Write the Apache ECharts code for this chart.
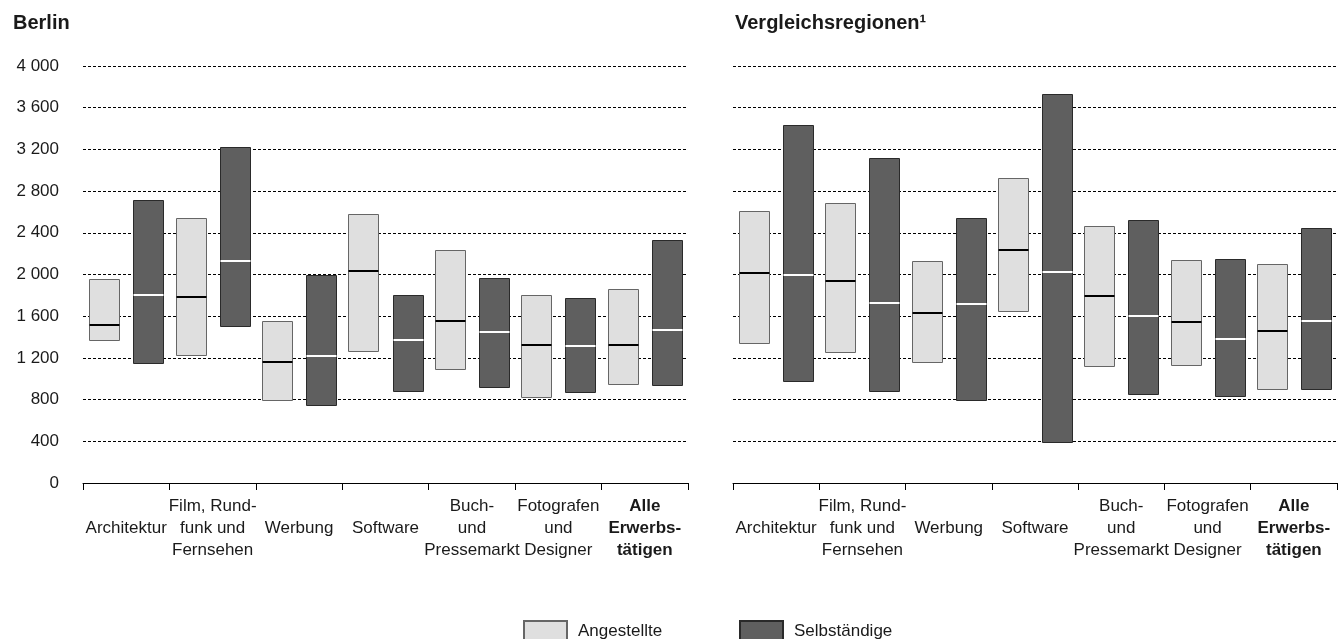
<!DOCTYPE html>
<html lang="de">
<head>
    <meta charset="UTF-8">
    <title>Einkommen Kreativwirtschaft</title>
    <script src="https://cdn.jsdelivr.net/npm/echarts@6/dist/echarts.min.js"></script>
    <style>
        html, body { margin: 0; padding: 0; background: #fff; }
        #chart { width: 1342px; height: 639px; }
    </style>
</head>
<body>
<div id="chart"></div>
<script type="text/javascript">
    var categories = ['Architektur', 'Film, Rund-\nfunk und\nFernsehen', 'Werbung', 'Software',
        'Buch-\nund\nPressemarkt', 'Fotografen\nund\nDesigner', 'Alle\nErwerbs-\ntätigen'];
    var yTicks = [0, 400, 800, 1200, 1600, 2000, 2400, 2800, 3200, 3600, 4000];

    // Berlin
    var berlinAngLow  = [1370, 1230,  800, 1270, 1090,  825,  950];
    var berlinAngMed  = [1520, 1785, 1160, 2030, 1550, 1320, 1320];
    var berlinAngHigh = [1960, 2540, 1550, 2580, 2235, 1800, 1865];
    var berlinSelLow  = [1150, 1505,  750,  885,  920,  875,  940];
    var berlinSelMed  = [1800, 2130, 1215, 1375, 1450, 1310, 1465];
    var berlinSelHigh = [2710, 3220, 2000, 1800, 1965, 1770, 2335];

    // Vergleichsregionen
    var vglAngLow  = [1340, 1260, 1160, 1650, 1120, 1130,  905];
    var vglAngMed  = [2015, 1935, 1635, 2235, 1790, 1545, 1460];
    var vglAngHigh = [2610, 2690, 2130, 2930, 2470, 2135, 2105];
    var vglSelLow  = [ 975,  880,  795,  395,  855,  830,  905];
    var vglSelMed  = [1995, 1725, 1720, 2025, 1600, 1385, 1555];
    var vglSelHigh = [3430, 3115, 2540, 3730, 2520, 2145, 2450];

    var FONT = 'Liberation Sans';
    var TXT = '#1a1a1a';

    function rows(lo, md, hi) {
        var out = [];
        for (var i = 0; i < lo.length; i++) out.push([i, lo[i], md[i], hi[i]]);
        return out;
    }

    function rangeRenderer(offset, fill, stroke, medColor) {
        return function (params, api) {
            var cat = api.value(0);
            var lo = api.coord([cat, api.value(1)]);
            var md = api.coord([cat, api.value(2)]);
            var hi = api.coord([cat, api.value(3)]);
            var band = api.size([1, 0])[0];
            var w = Math.round(band * 0.35);
            var x0 = Math.round(lo[0] + band * offset - w / 2) + 0.5;
            var yTop = Math.round(hi[1]) + 0.5;
            var yBot = Math.round(lo[1]) + 0.5;
            var yMed = Math.round(md[1]);
            return {
                type: 'group',
                children: [
                    { type: 'rect', shape: { x: x0, y: yTop, width: w, height: yBot - yTop },
                      style: { fill: fill, stroke: stroke, lineWidth: 1 } },
                    { type: 'line', shape: { x1: x0, y1: yMed, x2: x0 + w, y2: yMed },
                      style: { stroke: medColor, lineWidth: 2 } }
                ]
            };
        };
    }

    var labelBase = { color: TXT, fontFamily: FONT, fontSize: 17, lineHeight: 22, verticalAlign: 'middle' };

    var catData = categories.map(function (c, i) {
        if (i === categories.length - 1) {
            return { value: c, textStyle: Object.assign({}, labelBase, { fontWeight: 'bold' }) };
        }
        return c;
    });

    function fmt(v) {
        return String(v).replace(/\B(?=(\d{3})+(?!\d))/g, ' ');
    }

    function xAxis(idx) {
        return {
            type: 'category', gridIndex: idx, data: catData,
            axisLine: { show: true, lineStyle: { color: '#000', width: 1 } },
            axisTick: { show: true, interval: 0, length: 7, lineStyle: { color: '#000' } },
            axisLabel: Object.assign({ interval: 0, margin: 45 }, labelBase)
        };
    }

    function yAxis(idx, showLabels) {
        return {
            type: 'value', gridIndex: idx, min: 0, max: 4000, interval: 400,
            axisLine: { show: false }, axisTick: { show: false },
            splitLine: { lineStyle: { color: '#000', type: [3, 2], width: 1 } },
            axisLabel: { show: showLabels, color: TXT, fontFamily: FONT, fontSize: 17, margin: 24,
                padding: [7, 0, 0, 0],
                formatter: function (v) { return yTicks.indexOf(v) >= 0 ? fmt(v) : ''; } }
        };
    }

    var LIGHT = '#dfdfdf', LIGHT_B = '#666', DARK = '#5f5f5f', DARK_B = '#2a2a2a';

    function panelSeries(idx, aLo, aMd, aHi, sLo, sMd, sHi) {
        return [
            { name: 'Angestellte', type: 'custom', xAxisIndex: idx, yAxisIndex: idx,
              itemStyle: { color: LIGHT, borderColor: LIGHT_B, borderWidth: 1 },
              encode: { x: 0, y: [1, 2, 3] },
              renderItem: rangeRenderer(-0.255, LIGHT, LIGHT_B, '#000'),
              data: rows(aLo, aMd, aHi) },
            { name: 'Selbständige', type: 'custom', xAxisIndex: idx, yAxisIndex: idx,
              itemStyle: { color: DARK, borderColor: DARK_B, borderWidth: 1 },
              encode: { x: 0, y: [1, 2, 3] },
              renderItem: rangeRenderer(0.255, DARK, DARK_B, '#fff'),
              data: rows(sLo, sMd, sHi) }
        ];
    }

    var legendText = { fontFamily: FONT, fontSize: 17, color: TXT, padding: [0, 0, 0, 6] };
    var titleText = { fontFamily: FONT, fontSize: 20, fontWeight: 'bold', color: TXT };

    var chart = echarts.init(document.getElementById('chart'));
    var option = {
        animation: false,
        backgroundColor: '#fff',
        title: [
            { text: 'Berlin', left: 13, top: 13, padding: 0, textStyle: titleText },
            { text: 'Vergleichsregionen¹', left: 735, top: 13, padding: 0, textStyle: titleText }
        ],
        legend: [
            { data: ['Angestellte'], left: 523, top: 620, padding: 0, itemWidth: 43, itemHeight: 20,
              icon: 'rect', textStyle: legendText },
            { data: ['Selbständige'], left: 739, top: 620, padding: 0, itemWidth: 43, itemHeight: 20,
              icon: 'rect', textStyle: legendText }
        ],
        grid: [
            { left: 83, right: 654, top: 66, bottom: 156 },
            { left: 733, right: 5, top: 66, bottom: 156 }
        ],
        xAxis: [xAxis(0), xAxis(1)],
        yAxis: [yAxis(0, true), yAxis(1, false)],
        series: panelSeries(0, berlinAngLow, berlinAngMed, berlinAngHigh, berlinSelLow, berlinSelMed, berlinSelHigh)
            .concat(panelSeries(1, vglAngLow, vglAngMed, vglAngHigh, vglSelLow, vglSelMed, vglSelHigh))
    };
    chart.setOption(option);
</script>
</body>
</html>
